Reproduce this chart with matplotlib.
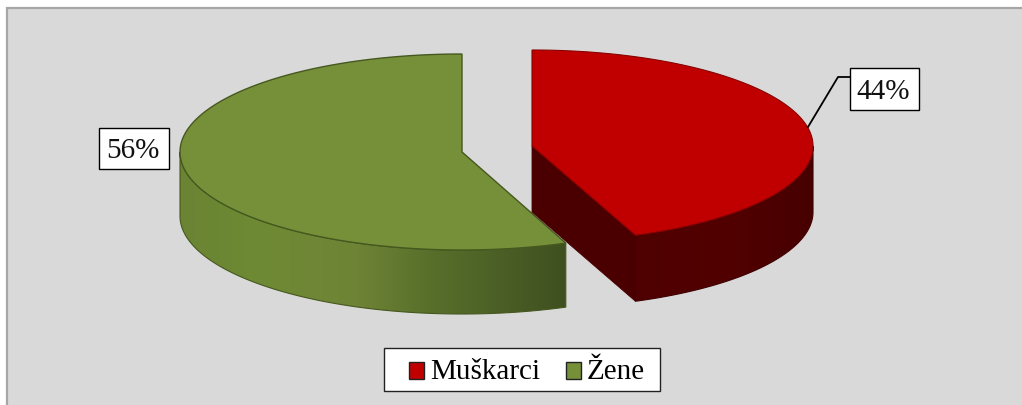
import numpy as np
import matplotlib
matplotlib.use("Agg")
import matplotlib.pyplot as plt
from matplotlib.patches import Patch, Polygon, Rectangle
from matplotlib.colors import LinearSegmentedColormap

# data
categories = ["Muškarci", "Žene"]
shares = [44, 56]
labels = ["44%", "56%"]

RED = "#c00000"
GREEN = "#76903a"
BG = "#d9d9d9"

plt.rcParams['font.family'] = ['Liberation Serif', 'DejaVu Serif']

fig = plt.figure(figsize=(10.22, 4.06), dpi=100, facecolor="white")
ax = fig.add_axes([0, 0, 1, 1])
ax.set_xlim(0, 1022)
ax.set_ylim(406, 0)
ax.axis("off")

ax.add_patch(Rectangle((6.5, 8.5), 1030, 410, fc=BG, ec="#a6a6a6", lw=1.6, zorder=0))


def ring(cx, cy, rx, ry, a0, a1, n=200):
    # angle runs clockwise from 12 o'clock, in degrees
    t = np.radians(np.linspace(a0, a1, n))
    return np.column_stack([cx + rx * np.sin(t), cy - ry * np.cos(t)])


def side_wall(cx, cy, rx, ry, depth, a0, a1, cmap, edge, z):
    top = ring(cx, cy, rx, ry, a0, a1)
    low = top + [0, depth]
    outline = np.vstack([top, low[::-1]])
    clip = Polygon(outline, closed=True, fc="none", ec=edge, lw=0.8, zorder=z + 0.1)
    ax.add_patch(clip)
    # horizontal gradient cut to the shape of the wall
    im = ax.imshow(np.linspace(0, 1, 256)[None, :], cmap=cmap, aspect="auto", zorder=z,
                   extent=[top[:, 0].min(), top[:, 0].max(), low[:, 1].max(), top[:, 1].min()])
    im.set_clip_path(clip)
    ax.set_xlim(0, 1022)
    ax.set_ylim(406, 0)


green_side = LinearSegmentedColormap.from_list("g", [(0, "#6a8433"), (0.2, "#6e8a34"), (0.45, "#6f8436"),
                                                     (0.65, "#586f2b"), (1, "#3f5020")])
red_side = LinearSegmentedColormap.from_list("r", ["#4f0000", "#520000", "#470000"])

# green slice, going back from 12 o'clock, on the left
sweep_g = shares[1] / sum(shares) * 360
cx, cy, rx, ry, depth = 462, 153, 282, 98, 64
side_wall(cx, cy, rx, ry, depth, -90, -sweep_g, green_side, "#46581f", 2)
pts = np.vstack([[[cx, cy]], ring(cx, cy, rx, ry, 0, -sweep_g)])
ax.add_patch(Polygon(pts, closed=True, fc=GREEN, ec="#46581f", lw=1.0, zorder=3))

# red slice, clockwise from 12 o'clock
sweep_r = shares[0] / sum(shares) * 360
cx, cy, rx, ry, depth = 532, 147, 281, 96, 66
end = ring(cx, cy, rx, ry, sweep_r, sweep_r, n=1)[0]
ax.add_patch(Polygon([[cx, cy], end, end + [0, depth], [cx, cy + depth]], closed=True,
                     fc="#4a0000", ec="#4a0000", lw=0.6, zorder=4))
side_wall(cx, cy, rx, ry, depth, 90, sweep_r, red_side, "#3f0000", 4)
pts = np.vstack([[[cx, cy]], ring(cx, cy, rx, ry, 0, sweep_r)])
ax.add_patch(Polygon(pts, closed=True, fc=RED, ec="#8a0000", lw=0.8, zorder=5))

# data labels
ax.add_patch(Rectangle((850, 69), 69, 42, fc="white", ec="black", lw=1.0, zorder=6))
ax.add_patch(Rectangle((99, 129), 70, 41, fc="white", ec="black", lw=1.0, zorder=6))
ax.text(883, 92, labels[0], fontsize=21, ha="center", va="center", color="#111111", zorder=7)
ax.text(133, 151, labels[1], fontsize=21, ha="center", va="center", color="#111111", zorder=7)
ax.plot([808, 838, 850], [128, 78, 78], color="black", lw=1.3, zorder=6)

# legend, frame drawn by hand because the padding is not even on both sides
ax.add_patch(Rectangle((384, 349), 276, 43, fc="white", ec="#222222", lw=1.0, zorder=7))
handles = [Patch(fc=RED, ec="#222222", lw=1.0), Patch(fc=GREEN, ec="#222222", lw=1.0)]
leg = ax.legend(handles, categories, ncol=2, loc="center left", bbox_to_anchor=(409, 372.5),
                bbox_transform=ax.transData, fontsize=21, frameon=False,
                handlelength=0.52, handleheight=0.52, handletextpad=0.22,
                columnspacing=0.85, borderpad=0, borderaxespad=0, labelspacing=0)
leg.set_zorder(8)
for h in leg.legend_handles:
    h.set_y(h.get_y() - 1.5)

fig.savefig("out.png", dpi=100, facecolor="white")
